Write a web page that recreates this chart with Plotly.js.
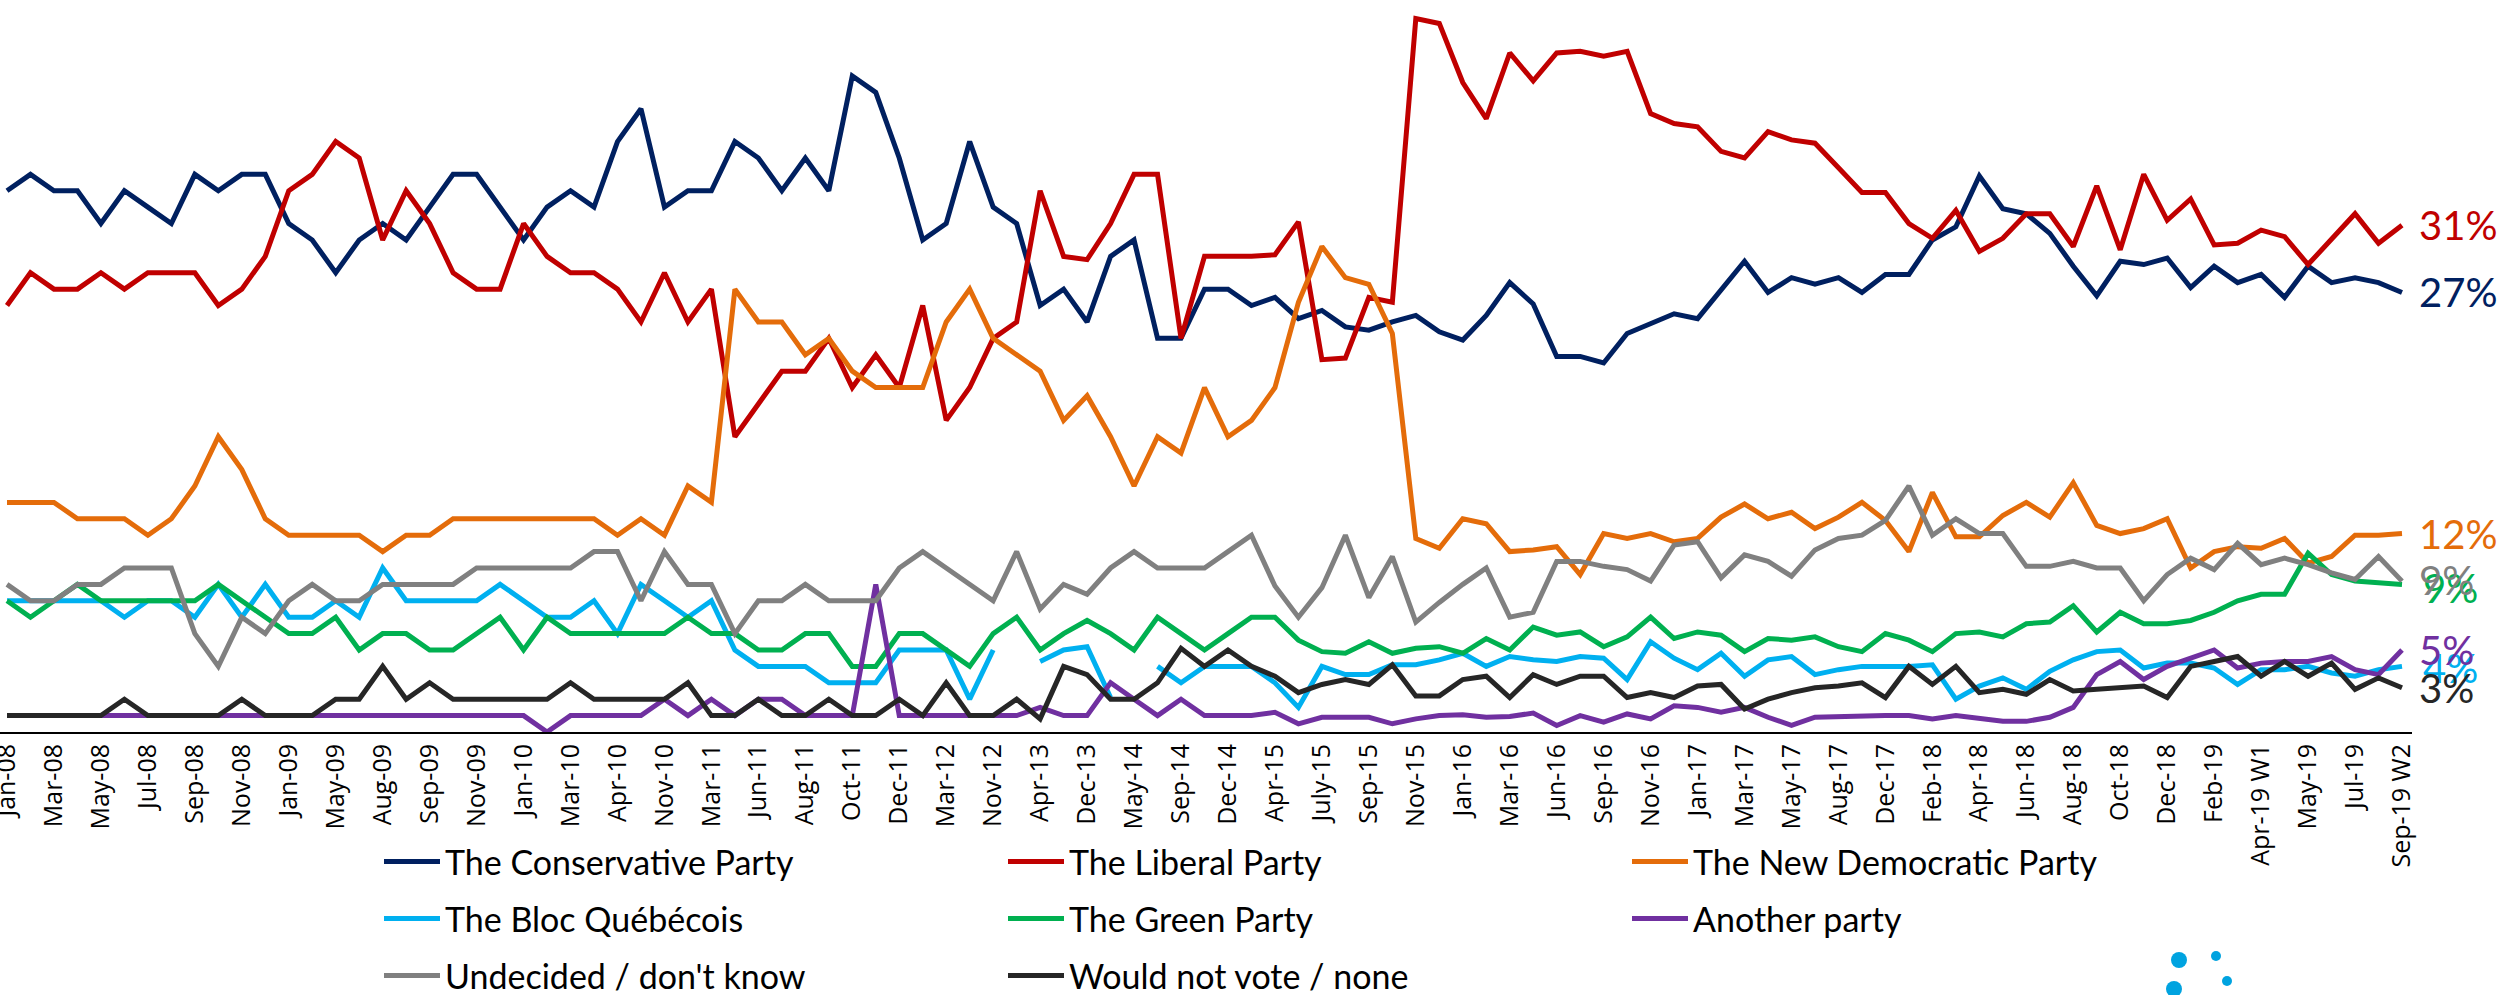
<!DOCTYPE html>
<html><head><meta charset="utf-8">
<script src="https://cdn.plot.ly/plotly-3.0.1.min.js"></script>
<style>html,body{margin:0;padding:0;background:#fff;}#chart{width:2509px;height:995px;}</style>
</head><body><div id="chart"></div>
<script>
const tickLabels = ['Jan-08','Mar-08','May-08','Jul-08','Sep-08','Nov-08','Jan-09','May-09','Aug-09','Sep-09','Nov-09','Jan-10','Mar-10','Apr-10','Nov-10','Mar-11','Jun-11','Aug-11','Oct-11','Dec-11','Mar-12','Nov-12','Apr-13','Dec-13','May-14','Sep-14','Dec-14','Apr-15','July-15','Sep-15','Nov-15','Jan-16','Mar-16','Jun-16','Sep-16','Nov-16','Jan-17','Mar-17','May-17','Aug-17','Dec-17','Feb-18','Apr-18','Jun-18','Aug-18','Oct-18','Dec-18','Feb-19','Apr-19 W1','May-19','Jul-19','Sep-19 W2'];

const conservative = [33,34,33,33,31,33,32,31,34,33,34,34,31,30,28,30,31,30,32,34,34,32,30,32,33,32,36,38,32,33,33,36,35,33,35,33,40,39,35,30,31,36,32,31,26,27,25,29,30,24,24,27,27,26,26.5,25.2,25.7,24.7,24.5,25.0,25.4,24.4,23.9,25.4,27.4,26.1,22.9,22.9,22.5,24.3,24.9,25.5,25.2,27.0,28.7,26.8,27.7,27.3,27.7,26.8,27.9,27.9,30.0,30.8,33.9,31.9,31.6,30.4,28.4,26.6,28.7,28.5,28.9,27.1,28.4,27.4,27.9,26.5,28.4,27.4,27.7,27.4,26.8];
const liberal = [26,28,27,27,28,27,28,28,28,26,27,29,33,34,36,35,30,33,31,28,27,27,31,29,28,28,27,25,28,25,27,18,20,22,22,24,21,23,21,26,19,21,24,25,33,29,28.8,31,34,34,24,29,29,29,29.1,31.1,22.7,22.8,26.5,26.2,43.5,43.2,39.6,37.4,41.4,39.7,41.4,41.5,41.2,41.5,37.7,37.1,36.9,35.4,35.0,36.6,36.1,35.9,34.4,32.9,32.9,31.0,30.1,31.8,29.3,30.1,31.6,31.6,29.6,33.3,29.4,34.0,31.2,32.5,29.7,29.8,30.6,30.2,28.5,30.1,31.6,29.8,30.9];
const ndp = [14,14,14,13,13,13,12,13,15,18,16,13,12,12,12,12,11,12,12,13,13,13,13,13,13,13,12,13,12,15,14,27,25,25,23,24,22,21,21,21,25,27,24,23,22,19,20.5,18,15,18,17,21,18,19,21,26.2,29.6,27.7,27.3,24.3,11.8,11.2,13.0,12.7,11.0,11.1,11.3,9.6,12.1,11.8,12.1,11.6,11.8,13.1,13.9,13.0,13.4,12.4,13.1,14.0,12.9,11.0,14.6,11.9,11.9,13.2,14.0,13.1,15.2,12.6,12.1,12.4,13.0,10.0,11.0,11.3,11.2,11.8,10.3,10.7,12.0,12.0,12.1];
const bloc = [8,8,8,8,8,7,8,8,7,9,7,9,7,7,8,7,10,8,8,8,8,9,8,7,7,8,6,9,8,7,8,5,4,4,4,3,3,3,5,5,5,2,5,null,4.3,5,5.2,2.1,null,4,3,4,4,4,3,1.5,4,3.5,3.5,4.1,4.1,4.4,4.8,4.0,4.6,4.4,4.3,4.6,4.5,3.2,5.5,4.5,3.8,4.8,3.4,4.4,4.6,3.5,3.8,4.0,4.0,4.0,4.1,2.0,2.8,3.3,2.6,3.7,4.4,4.9,5.0,3.9,4.2,4.2,3.9,2.9,3.8,3.8,4.0,3.6,3.4,3.8,4.0];
const green = [8,7,8,9,8,8,8,8,8,9,8,7,6,6,7,5,6,6,5,5,6,7,5,7,6,6,6,6,6,7,6,6,5,5,6,6,4,4,6,6,5,4,6,7,5,6,6.8,6,5,7,6,5,6,7,7,5.6,4.9,4.8,5.5,4.8,5.1,5.2,4.8,5.7,5.0,6.4,5.9,6.1,5.2,5.8,7.0,5.7,6.1,5.9,4.9,5.7,5.6,5.8,5.2,4.9,6.0,5.6,4.9,6.0,6.1,5.8,6.6,6.7,7.7,6.1,7.3,6.6,6.6,6.8,7.3,8.0,8.4,8.4,10.9,9.6,9.2,9.1,9.0];
const another = [1,1,1,1,1,1,1,1,1,1,1,1,1,1,1,1,1,1,1,1,1,1,1,0,1,1,1,1,2,1,2,1,2,2,1,1,1,9,1,1,1,1,1,1,1.5,1,1,3,2,1,2,1,1,1,1.2,0.5,0.9,0.9,0.9,0.5,0.8,1.0,1.05,0.9,0.95,1.15,0.4,1.0,0.6,1.1,0.8,1.6,1.5,1.2,1.5,0.9,0.4,0.9,0.95,1.0,1.0,1.0,0.8,1.0,0.8,0.65,0.65,0.9,1.5,3.5,4.3,3.2,4.0,4.5,5.0,3.9,4.2,4.3,4.3,4.6,3.8,3.5,5.0];
const undecided = [9,8,8,9,9,10,10,10,6,4,7,6,8,9,8,8,9,9,9,9,10,10,10,10,10,11,11,8,11,9,9,6,8,8,9,8,8,8,10,11,10,9,8,11,7.5,9,8.4,10,11,10,10,10,11,12,8.9,7.0,8.8,12,8.2,10.7,6.7,7.9,9.0,10.0,7.0,7.3,10.4,10.4,10.1,9.9,9.2,11.4,11.6,9.4,10.8,10.4,9.5,11.1,11.8,12.0,12.9,15.0,12.0,13.0,12.1,12.1,10.1,10.1,10.4,10.0,10.0,8.0,9.6,10.6,9.9,11.5,10.2,10.6,10.2,9.7,9.3,10.7,9.2];
const wouldNotVote = [1,1,1,1,1,2,1,1,1,1,2,1,1,1,2,2,4,2,3,2,2,2,2,2,3,2,2,2,2,3,1,1,2,1,1,2,1,1,2,1,3,1,1,2,0.8,4,3.5,2,2,3,5.1,4,5,4,3.4,2.4,2.9,3.2,2.9,4.1,2.2,2.2,3.2,3.4,2.1,3.5,2.9,3.4,3.4,2.1,2.4,2.1,2.8,2.9,1.4,2.0,2.4,2.7,2.8,3.0,2.1,4.0,2.9,4.0,2.4,2.6,2.3,3.2,2.5,2.6,2.7,2.8,2.1,4.0,4.3,4.6,3.4,4.3,3.4,4.2,2.6,3.3,2.7];

const seriesNames = ['The Conservative Party','The Liberal Party','The New Democratic Party','The Bloc Québécois','The Green Party','Another party','Undecided / don\'t know','Would not vote / none'];
const seriesValues = [conservative, liberal, ndp, bloc, green, another, undecided, wouldNotVote];

const style = {
  colors: ['#002060','#C00000','#E46C0A','#00B0F0','#00B050','#7030A0','#808080','#262626'],
  legends: ['legend','legend','legend','legend2','legend2','legend2','legend3','legend3'],
  labelShift: [15,15,15,19,19,15,15,15],
  labelYShift: [0,0,0,-2,-4,0,1,0],
  plotW: 2412, plotH: 732
};

const n = conservative.length;
const xs = conservative.map((_, i) => i);
const tickVals = tickLabels.map((_, k) => 2 * k);

const traces = seriesValues.map((vals, s) => ({
  type: 'scatter', mode: 'lines', x: xs, y: vals, name: seriesNames[s],
  legend: style.legends[s], connectgaps: false, hoverinfo: 'skip',
  line: {color: style.colors[s], width: 5}
}));

const annotations = seriesValues.map((vals, s) => ({
  x: n - 1, y: vals[n - 1], xref: 'x', yref: 'y',
  text: Math.round(vals[n - 1]) + '%', showarrow: false,
  xanchor: 'left', yanchor: 'middle', xshift: style.labelShift[s], yshift: style.labelYShift[s],
  font: {family: 'Lato, sans-serif', size: 40, color: style.colors[s]}
}));

const legendBase = {
  orientation: 'h', xref: 'paper', yref: 'paper', x: 379 / style.plotW, xanchor: 'left', yanchor: 'middle',
  font: {family: 'Lato, sans-serif', size: 34, color: '#000'},
  entrywidth: 553, entrywidthmode: 'pixels', itemwidth: 56, bgcolor: 'rgba(0,0,0,0)', borderwidth: 0
};
const rowY = [862, 919, 976].map(py => (style.plotH - py) / style.plotH);

const dots = [[2179, 960, 8], [2216, 956, 5], [2174, 989, 8], [2227, 981, 5]].map(([cx, cy, r]) => ({
  type: 'circle', xref: 'paper', yref: 'paper', layer: 'above',
  x0: (cx - r) / style.plotW, x1: (cx + r) / style.plotW,
  y0: (style.plotH - (cy + r)) / style.plotH, y1: (style.plotH - (cy - r)) / style.plotH,
  fillcolor: '#00A3E0', line: {width: 0}
}));

const layout = {
  width: 2509, height: 995,
  margin: {l: 0, r: 2509 - style.plotW, t: 0, b: 995 - style.plotH, autoexpand: false},
  paper_bgcolor: '#fff', plot_bgcolor: '#fff',
  showlegend: true,
  xaxis: {
    range: [-0.298, 102.426], tickmode: 'array', tickvals: tickVals, ticktext: tickLabels,
    tickangle: -90, tickfont: {family: 'Open Sans, sans-serif', size: 25, color: '#000'},
    ticklabeloverflow: 'allow',
    showgrid: false, zeroline: false, showline: true, linecolor: '#000', linewidth: 2, ticks: '', fixedrange: true
  },
  yaxis: {range: [0, 44.63], showgrid: false, zeroline: false, showline: false, showticklabels: false, ticks: '', fixedrange: true},
  legend: Object.assign({}, legendBase, {y: rowY[0]}),
  legend2: Object.assign({}, legendBase, {y: rowY[1]}),
  legend3: Object.assign({}, legendBase, {y: rowY[2]}),
  annotations: annotations,
  shapes: dots
};

Plotly.newPlot('chart', traces, layout, {displayModeBar: false, staticPlot: true});
</script></body></html>
